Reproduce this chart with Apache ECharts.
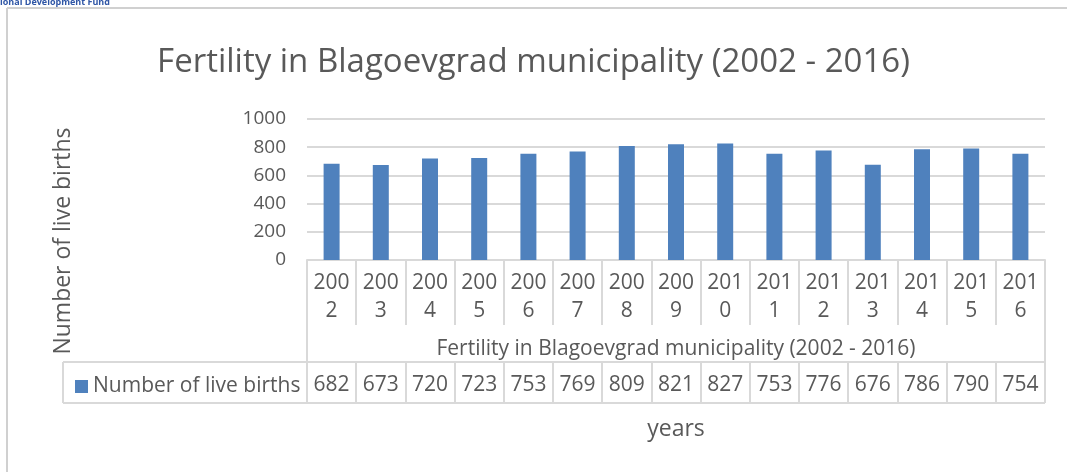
<!DOCTYPE html>
<html>
<head>
<meta charset="utf-8">
<script src="https://cdn.jsdelivr.net/npm/echarts@6/dist/echarts.min.js"></script>
<style>
  html, body { margin: 0; padding: 0; background: #fff; }
  #chart { width: 1067px; height: 472px; }
</style>
</head>
<body>
<div id="chart"></div>
<script>
const years = ["2002", "2003", "2004", "2005", "2006", "2007", "2008", "2009", "2010", "2011", "2012", "2013", "2014", "2015", "2016"];
const births = [682, 673, 720, 723, 753, 769, 809, 821, 827, 753, 776, 676, 786, 790, 754];
const yTicks = [0, 200, 400, 600, 800, 1000];

// layout
const W = 1067, H = 472;
const gl = 307, gr = 1045, gt = 119, gb = 260;
const rowMid = 362, rowBot = 403, legL = 63;
const font = "'Open Sans', 'Liberation Sans', sans-serif";
const txt = "#595959";
const lineC = "#d9d9d9";

const chart = echarts.init(document.getElementById("chart"));

// split "2002" -> "200\n2" like the narrow table cells
const catLabel = (v) => v.slice(0, 3) + "\n" + v.slice(3);

const line = (x1, y1, x2, y2, c) => ({
  type: "line",
  shape: { x1, y1, x2, y2 },
  style: { stroke: c || lineC, lineWidth: 2 },
  silent: true
});

chart.setOption({
  animation: false,
  textStyle: { fontFamily: font },
  title: {
    text: "Fertility in Blagoevgrad municipality (2002 - 2016)",
    left: "center",
    top: 41,
    textStyle: { fontFamily: font, fontSize: 33, fontWeight: "normal", color: txt }
  },
  legend: {
    data: ["Number of live births"],
    left: 70,
    top: 371,
    icon: "rect",
    itemWidth: 13,
    itemHeight: 13,
    itemGap: 4,
    textStyle: { fontFamily: font, fontSize: 21, color: txt }
  },
  grid: { left: gl, right: W - gr, top: gt, bottom: H - gb },
  xAxis: [
    {
      type: "category",
      data: years,
      name: "Fertility in Blagoevgrad municipality (2002 - 2016)",
      nameLocation: "middle",
      nameGap: 79,
      nameTextStyle: { fontSize: 21, color: txt, verticalAlign: "top" },
      axisLine: { lineStyle: { color: lineC, width: 2 } },
      axisTick: { show: true, length: 65, lineStyle: { color: lineC, width: 2 } },
      axisLabel: {
        formatter: catLabel,
        fontSize: 21,
        lineHeight: 28,
        color: txt,
        margin: 9,
        interval: 0
      }
    },
    {
      type: "category",
      data: years,
      position: "bottom",
      offset: rowMid - gb,
      name: "years",
      nameLocation: "middle",
      nameGap: 56,
      nameTextStyle: { fontSize: 23, color: txt, verticalAlign: "top" },
      axisLine: { lineStyle: { color: lineC, width: 2 } },
      axisTick: { show: true, length: rowBot - rowMid, lineStyle: { color: lineC, width: 2 } },
      axisLabel: {
        formatter: (v, i) => String(births[i]),
        fontSize: 21,
        color: txt,
        margin: 13,
        interval: 0
      }
    }
  ],
  yAxis: {
    type: "value",
    min: yTicks[0],
    max: yTicks[yTicks.length - 1],
    interval: 200,
    axisLine: { show: false },
    axisTick: { show: false },
    axisLabel: { fontSize: 19, color: txt, margin: 21, formatter: (v) => String(v) },
    splitLine: { lineStyle: { color: lineC, width: 2 } }
  },
  series: [
    {
      name: "Number of live births",
      type: "bar",
      data: births,
      barWidth: 16,
      itemStyle: { color: "#4f81bd" }
    }
  ],
  graphic: [
    // outer frame of the chart area
    line(7, 8, W, 8, "#d0d0d0"),
    line(7, 8, 7, H, "#d0d0d0"),
    // data table borders
    line(gl, gb, gl, rowBot),
    line(gr, gb, gr, rowBot),
    line(legL, rowMid, gl, rowMid),
    line(legL, rowBot, gr, rowBot),
    line(legL, rowMid, legL, rowBot),
    {
      type: "text",
      left: 0,
      top: -2,
      style: { text: "ional Development Fund", font: "bold 9px " + font, fill: "#2f56a6" }
    },
    {
      type: "text",
      x: 63,
      y: 241,
      rotation: Math.PI / 2,
      style: {
        text: "Number of live births",
        font: "23px " + font,
        fill: txt,
        align: "center",
        verticalAlign: "middle"
      }
    }
  ]
});
</script>
</body>
</html>
